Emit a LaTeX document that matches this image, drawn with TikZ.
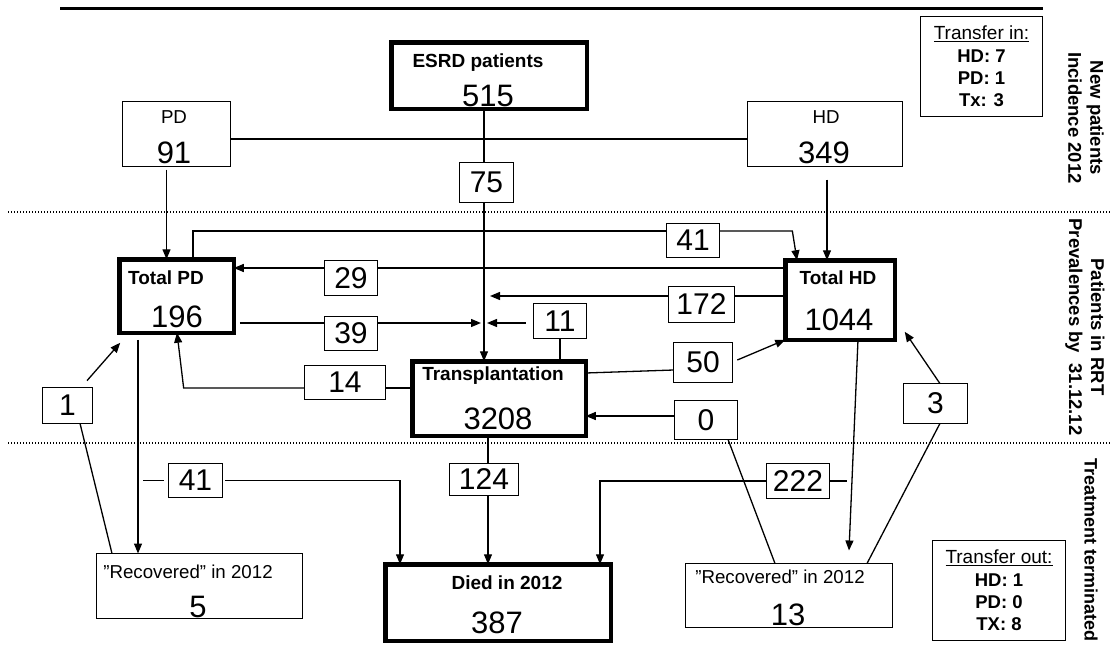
\documentclass[tikz,border=0pt]{standalone}
\usepackage{fontspec}
\setmainfont{Liberation Sans}
\usetikzlibrary{arrows.meta}

\tikzset{
  thinbox/.style={draw, line width=1.3pt, outer sep=0pt, inner sep=0pt},
  thickbox/.style={draw, line width=4.5pt, outer sep=0pt, inner sep=0pt},
  numbox/.style={draw, fill=white, line width=1.3pt, outer sep=0pt, inner sep=0pt,
    font=\fontsize{30}{30}\selectfont},
  hdr/.style={anchor=base, inner sep=0pt, font=\fontsize{19}{19}\selectfont\bfseries},
  lbl/.style={anchor=base, inner sep=0pt, font=\fontsize{18.7}{18.7}\selectfont},
  bignum/.style={anchor=base, inner sep=0pt, font=\fontsize{31}{31}\selectfont},
  sidenote/.style={rotate=-90, align=center, inner sep=0pt,
    font=\fontsize{18.5}{22}\selectfont\bfseries},
  dotline/.style={line width=1.2pt, dash pattern=on 1.2pt off 1.8pt},
}

\begin{document}
\begin{tikzpicture}[x=1pt, y=-1pt, line width=1.3pt,
    >={Triangle[length=10pt,width=8pt]}]
  \useasboundingbox (0,0) rectangle (1112,653);

  % rules and row separators
  \draw[line width=3pt] (60,8.5) -- (1043,8.5);
  \draw[dotline] (8,212) -- (1112,212);
  \draw[dotline] (8,443) -- (1112,443);

  % boxes
  \node[thickbox, minimum width=195.5, minimum height=66.5] (esrd) at (489,75.5) {};
  \node[thinbox, minimum width=108, minimum height=65] (pd) at (176.5,134) {};
  \node[thinbox, minimum width=155, minimum height=65] (hd) at (825,134) {};
  \node[thickbox, minimum width=114.5, minimum height=73.5] (tpd) at (176.5,296) {};
  \node[thickbox, minimum width=109.5, minimum height=79.5] (thd) at (840,300) {};
  \node[thickbox, minimum width=173.5, minimum height=74.5] (tx) at (499,398.5) {};
  \node[thickbox, minimum width=225.5, minimum height=76.5] (died) at (498,602.5) {};
  \node[thinbox, minimum width=206, minimum height=65] (rec5) at (199.5,586) {};
  \node[thinbox, minimum width=207, minimum height=64] (rec13) at (789,595.5) {};

  % box texts
  \node[hdr] (esrdT) at (478,67) {ESRD patients};
  \node[bignum] (esrdN) at (488,106) {515};
  \node[lbl] (pdT) at (174,123) {PD};
  \node[bignum] (pdN) at (174,163) {91};
  \node[lbl] (hdT) at (826,123) {HD};
  \node[bignum] (hdN) at (824,163) {349};
  \node[hdr] (tpdT) at (166,284) {Total PD};
  \node[bignum] (tpdN) at (177,327) {196};
  \node[hdr] (thdT) at (838,284) {Total HD};
  \node[bignum] (thdN) at (839,330) {1044};
  \node[hdr] (txT) at (493,380) {Transplantation};
  \node[bignum] (txN) at (498,429) {3208};
  \node[hdr] (diedT) at (507,589) {Died in 2012};
  \node[bignum] (diedN) at (497,633) {387};
  \node[lbl] (rec5T) at (188,578) {”Recovered” in 2012};
  \node[bignum] (rec5N) at (198,617) {5};
  \node[lbl] (rec13T) at (780,583) {”Recovered” in 2012};
  \node[bignum] (rec13N) at (788,625) {13};

  % transfer boxes
  \node[thinbox, minimum width=122, minimum height=100, align=center,
    font=\fontsize{18.5}{22.3}\selectfont\bfseries] (tin) at (981.5,66.5)
    {{\mdseries\fontsize{19}{22.3}\selectfont\underline{Transfer in:}}\\HD: 7\\PD: 1\\Tx: 3};
  \node[thinbox, minimum width=133, minimum height=100, align=center,
    font=\fontsize{18.5}{22.3}\selectfont\bfseries] (tout) at (999,590.5)
    {{\mdseries\fontsize{19}{22.3}\selectfont\underline{Transfer out:}}\\HD: 1\\PD: 0\\TX: 8};

  % side labels
  \node[sidenote] (newlbl) at (1086,118) {New patients\\Incidence 2012};
  \node[sidenote] (rrtlbl) at (1085,327) {Patients in RRT\\Prevalences by\ \ 31.12.12};
  \node[sidenote, anchor=west, font=\fontsize{18}{22}\selectfont\bfseries]
    (endlbl) at (1091,458) {Treatment terminated};

  % flow counts
  \node[numbox, minimum width=53.7, minimum height=39.7] (n75) at (486.5,182.5) {75};
  \node[numbox, minimum width=52.7, minimum height=33.7] (n41a) at (693,240.5) {41};
  \node[numbox, minimum width=52.7, minimum height=34.7] (n29) at (351,278) {29};
  \node[numbox, minimum width=65.7, minimum height=35.7] (n172) at (701.5,304.5) {172};
  \node[numbox, minimum width=52.7, minimum height=34.7] (n11) at (560,321) {11};
  \node[numbox, minimum width=52.7, minimum height=33.7] (n39) at (351,333.5) {39};
  \node[numbox, minimum width=80.7, minimum height=33.7] (n14) at (345,382.5) {14};
  \node[numbox, minimum width=58.7, minimum height=39.7] (n50) at (703,362.5) {50};
  \node[numbox, minimum width=62.7, minimum height=38.7] (n0) at (706,420) {0};
  \node[numbox, minimum width=63.7, minimum height=39.7] (n3) at (935.5,403.5) {3};
  \node[numbox, minimum width=49.7, minimum height=35.7] (n1) at (67.5,405.5) {1};
  \node[numbox, minimum width=53.7, minimum height=33.7] (n41b) at (195.5,480.5) {41};
  \node[numbox, minimum width=68.7, minimum height=31.7] (n124) at (484,479.5) {124};
  \node[numbox, minimum width=62.7, minimum height=34.7] (n222) at (798,481) {222};

  \coordinate (m172) at (490,296);
  \coordinate (m11) at (487,323);
  \coordinate (m39) at (481,323);

  % new patients
  \draw ([xshift=-2.5]esrd.south -| n75) -- ([xshift=-2.5]n75.north);
  \draw[->] ([xshift=-2.5]n75.south) -- ([xshift=-2.5]n75.south |- tx.north);
  \draw ([yshift=-5]pd.east) -- ([yshift=-5]hd.west);
  \draw[->] ([shift={(-10,3)}]pd.south) -- ([xshift=-10]pd.south |- tpd.north);
  \draw[->] ([shift={(2,13)}]hd.south) -- ([xshift=2]hd.south |- thd.north);

  % switches between treatments
  \draw ([xshift=16.5]tpd.north) |- ([yshift=9.5]n41a.west);
  \draw[->] ([yshift=9.5]n41a.east) -- ++(73,0) -- ([xshift=-43]thd.north);
  \draw ([yshift=32]thd.west) -- ([yshift=10]n29.east);
  \draw[->] ([yshift=10]n29.west) -- ([yshift=28]tpd.east);
  \draw ([yshift=4]thd.west) -- ([yshift=8.5]n172.east);
  \draw[->] ([yshift=8.5]n172.west) -- (m172);
  \draw (n11.south) -- (n11.south |- tx.north);
  \draw[->] ([shift={(-8,2)}]n11.west) -- (m11);
  \draw ([shift={(6,27)}]tpd.east) -- ([yshift=10.5]n39.west);
  \draw[->] ([yshift=10.5]n39.east) -- (m39);
  \draw ([yshift=10.5]tx.west) -- ([yshift=-5.5]n14.east);
  \draw[->] ([yshift=-5.5]n14.west) -- ++(-121,0) -- ([xshift=0.5]tpd.south);
  \draw ([yshift=25.5]tx.east) -- ([yshift=-7.5]n50.west);
  \draw[->] ([shift={(5,-2.5)}]n50.east) -- (thd.south west);
  \draw[->] ([yshift=4]n0.west) -- ([yshift=-17.5]tx.east);
  \draw[->] ([shift={(19.5,-7)}]n1.north) -- ([shift={(1,10)}]tpd.south west);
  \draw[->] ([xshift=4.5]n3.north) -- ([shift={(10,-8)}]thd.south east);

  % terminated
  \draw[->] ([shift={(-38.5,7)}]tpd.south) -- ([xshift=-38.5]tpd.south |- rec5.north);
  \draw ([xshift=12.5]n1.south) -- ([xshift=-87.5]rec5.north);
  \draw ([xshift=-5]n41b.west) -- ++(-21,0);
  \draw[->] ([xshift=3]n41b.east) -| ([xshift=-98]died.north);
  \draw ([xshift=4]n124.north |- tx.south) -- ([xshift=4]n124.north);
  \draw[->] ([xshift=4]n124.south) -- ([xshift=4]n124.south |- died.north);
  \draw (n222.east) -- ++(18,0);
  \draw[->] (n222.west) -| ([xshift=102]died.north);
  \draw[->] ([xshift=18]thd.south) -- ([shift={(60,-13)}]rec13.north);
  \draw ([xshift=22]n0.south) -- ([xshift=-14]rec13.north);
  \draw ([xshift=4.5]n3.south) -- ([xshift=-25.5]rec13.north east);
\end{tikzpicture}
\end{document}
